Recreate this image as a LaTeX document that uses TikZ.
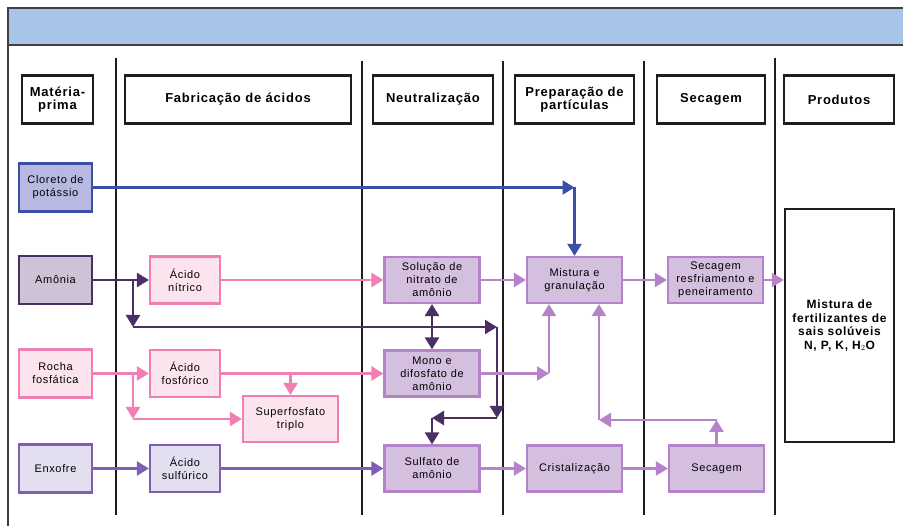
\documentclass[tikz,border=0pt]{standalone}
\usepackage{fontspec}
\setmainfont{Liberation Sans}[LetterSpace=6]
\usetikzlibrary{arrows.meta, positioning, calc}
\usepackage{xcolor}
\definecolor{ink}{HTML}{1E1E1E}
\definecolor{band}{HTML}{A6C4E8}
\definecolor{kcldraw}{HTML}{3A4FA8}
\definecolor{kclfill}{HTML}{B8B9E3}
\definecolor{nhdraw}{HTML}{4A2F63}
\definecolor{nhfill}{HTML}{CEC3D6}
\definecolor{pkdraw}{HTML}{F07FB4}
\definecolor{pkfill}{HTML}{FCE4EF}
\definecolor{sudraw}{HTML}{7E5FB5}
\definecolor{sufill}{HTML}{E3DFF0}
\definecolor{ltdraw}{HTML}{B583C9}
\definecolor{ltfill}{HTML}{D5BFDF}

\begin{document}
\begin{tikzpicture}[x=1pt, y=-1pt,
  box/.style={draw, line width=2.2pt, align=center, inner sep=1pt,
              minimum width=95pt, minimum height=46pt,
              font=\fontsize{11}{13}\selectfont},
  raw/.style={box, minimum width=73pt, minimum height=48pt},
  acid/.style={box, minimum width=70pt, minimum height=47pt},
  kcl/.style={draw=kcldraw, fill=kclfill},
  nh/.style={draw=nhdraw, fill=nhfill},
  pk/.style={draw=pkdraw, fill=pkfill},
  su/.style={draw=sudraw, fill=sufill},
  lt/.style={draw=ltdraw, fill=ltfill},
  hdr/.style={draw=ink, line width=2.4pt, align=center, inner sep=1pt,
              minimum height=48pt, font=\bfseries\fontsize{13}{13.5}\selectfont},
  sep/.style={draw=ink, line width=2.4pt},
  arr/.style={-{Triangle[length=12pt, width=14pt]}, line width=2.4pt},
  kl/.style={arr, draw=kcldraw, fill=kcldraw},
  nl/.style={arr, draw=nhdraw, fill=nhdraw},
  pl/.style={arr, draw=pkdraw, fill=pkdraw},
  sl/.style={arr, draw=sudraw, fill=sudraw},
  ll/.style={arr, draw=ltdraw, fill=ltdraw}
]
\useasboundingbox (0,0) rectangle (903,526);

% frame and title band
\fill[band] (8,8) rectangle (903,45);
\draw[ink!85, line width=2.4pt] (903,8) -- (8,8) -- (8,526);
\draw[ink!85, line width=2.4pt] (8,45) -- (903,45);
\foreach \x/\y in {116/58, 362/61, 503/61, 644/61, 775/58}
  \draw[sep] (\x,\y) -- (\x,515);

% column headers
\node[hdr, minimum width=71pt] (hraw) at (57.5,99.5) {Matéria-\\prima};
\node[hdr, minimum width=226pt] (hacid) at (238,99.5) {Fabricação de ácidos};
\node[hdr, minimum width=120pt] (hneu) at (433,99.5) {Neutralização};
\node[hdr, minimum width=119pt] (hgran) at (574.5,99.5) {Preparação de\\partículas};
\node[hdr, minimum width=108pt] (hdry) at (711,99.5) {Secagem};
\node[hdr, minimum width=110pt] (hprod) at (839,99.5) {Produtos};

% raw materials
\node[raw, kcl] (kcl) at (55.5,187.5) {Cloreto de\\potássio};
\node[raw, nh] (amonia) at (55.5,280) {Amônia};
\node[raw, pk] (rocha) at (55.5,373.5) {Rocha\\fosfática};
\node[raw, su] (enxofre) at (55.5,468.5) {Enxofre};

% acids
\node[acid, pk] (nitrico) at (185,280) {Ácido\\nítrico};
\node[acid, pk] (fosforico) at (185,373.5) {Ácido\\fosfórico};
\node[acid, su] (sulfurico) at (185,468.5) {Ácido\\sulfúrico};
\node[box, pk] (tsp) at (290.5,419) {Superfosfato\\triplo};

% neutralization
\node[box, lt] (nitrato) at (432,280) {Solução de\\nitrato de\\amônio};
\node[box, lt] (fosfato) at (432,373.5) {Mono e\\difosfato de\\amônio};
\node[box, lt] (sulfato) at (432,468.5) {Sulfato de\\amônio};

% particles and drying
\node[box, lt] (mistura) at (574.5,280) {Mistura e\\granulação};
\node[box, lt] (cristal) at (574.5,468.5) {Cristalização};
\node[box, lt] (resfria) at (715.5,280) {Secagem\\resfriamento e\\peneiramento};
\node[box, lt] (secagem) at (716.5,468.5) {Secagem};

% product
\node[draw=ink, line width=2.4pt, minimum width=109pt, minimum height=233pt,
      align=center, font=\bfseries\fontsize{12}{13.5}\selectfont]
  (produto) at (839.5,325.5) {Mistura de\\fertilizantes de\\sais solúveis\\N, P, K, H$_2$O};

% potassium chloride
\coordinate (k1) at (574.5,187.5);
\draw[kl] (kcl) -- (k1);
\draw[kl] (k1) -- (mistura);

% ammonia
\coordinate (a1) at (133,280);
\coordinate (a2) at (133,327);
\coordinate (a3) at (497,327);
\coordinate (a4) at (497,418);
\coordinate (a5) at (432,418);
\coordinate (a6) at (432,327);
\draw[nl] (amonia) -- (nitrico);
\draw[nl] (a1) -- (a2);
\draw[nl] (a2) -- (a3);
\draw[nl] (a6) -- (nitrato);
\draw[nl] (a6) -- (fosfato);
\draw[nl] (a3) -- (a4);
\draw[nl] (a4) -- (a5);
\draw[nl] (a5) -- (sulfato);

% phosphate rock
\coordinate (p1) at (133,373.5);
\coordinate (p2) at (133,419);
\coordinate (p3) at (290.5,373.5);
\draw[pl] (rocha) -- (fosforico);
\draw[pl] (p1) -- (p2);
\draw[pl] (p2) -- (tsp);
\draw[pl] (fosforico) -- (fosfato);
\draw[pl] (p3) -- (tsp);
\draw[pl] (nitrico) -- (nitrato);

% sulphur
\draw[sl] (enxofre) -- (sulfurico);
\draw[sl] (sulfurico) -- (sulfato);

% neutralized streams
\coordinate (m1) at (549,373.5);
\coordinate (r1) at (716.5,420);
\coordinate (r2) at (599,420);
\draw[ll] (nitrato) -- (mistura);
\draw[ll] (fosfato) -- (m1);
\draw[ll] (m1) -- (m1 |- mistura.south);
\draw[ll] (sulfato) -- (cristal);
\draw[ll] (cristal) -- (secagem);
\draw[ll] (secagem) -- (r1);
\draw[ll] (r1) -- (r2);
\draw[ll] (r2) -- (r2 |- mistura.south);
\draw[ll] (mistura) -- (resfria);
\draw[ll] (resfria.east) -- (resfria.east -| produto.west);
\end{tikzpicture}
\end{document}
